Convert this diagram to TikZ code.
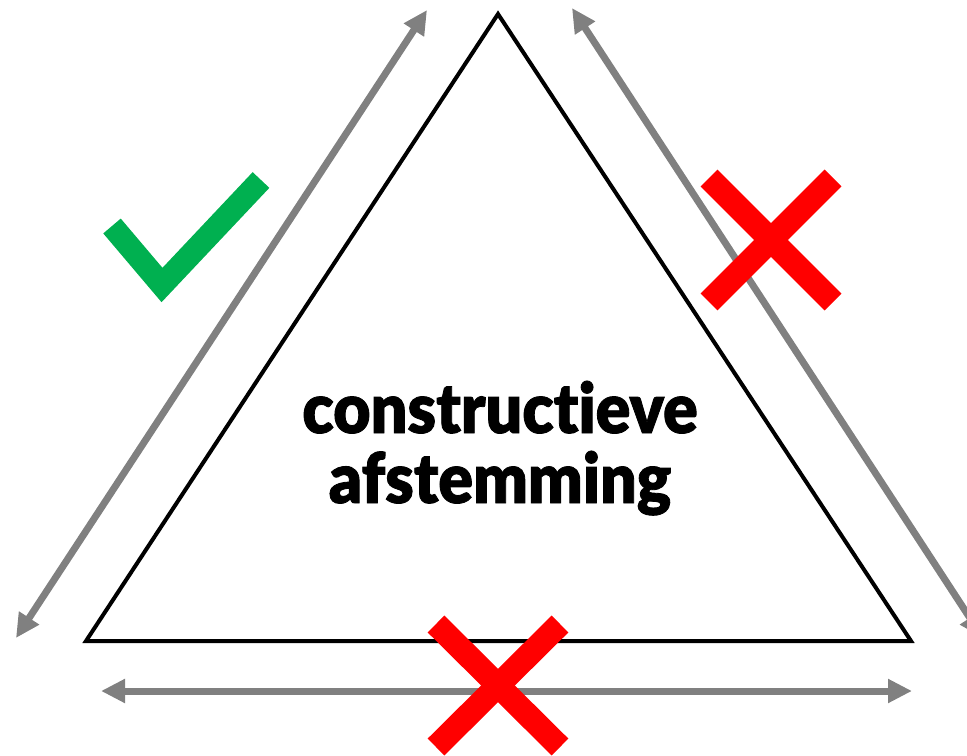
\documentclass[tikz,border=0pt]{standalone}
\usepackage{fontspec}
\usetikzlibrary{arrows.meta}
\newfontfamily\blk{Lato Black}[Ligatures={NoCommon,NoRare,NoDiscretionary},FakeStretch=0.93,FakeBold=1.2]
\definecolor{chkgreen}{HTML}{00B050}
\definecolor{arrgray}{HTML}{808080}
\begin{document}
\begin{tikzpicture}[x=0.75pt,y=-0.75pt,
  tri/.style={draw=black,line width=3pt,line join=miter},
  dbl/.style={draw=arrgray,line width=5.25pt,{Triangle[length=18pt,width=17pt]}-{Triangle[length=18pt,width=17pt]}},
  cross/.style={draw=red,line width=17.8pt,line cap=butt},
  tick/.style={draw=chkgreen,line width=17.2pt,line join=miter,line cap=butt},
  lbl/.style={font=\blk\fontsize{52}{52}\selectfont,inner sep=0pt,anchor=base}]
\useasboundingbox (0,0) rectangle (967,756);
% triangle
\coordinate (T) at (498,14);
\coordinate (BL) at (86,641);
\coordinate (BR) at (911,641);
\draw[tri] (T) -- (BL) -- (BR) -- cycle;
% arrows
\coordinate (L1) at (16,638);
\coordinate (L2) at (427,10);
\coordinate (R1) at (572,8);
\coordinate (R2) at (983,638);
\coordinate (B1) at (101,691);
\coordinate (B2) at (912,691);
\draw[dbl] (L1) -- (L2);
\draw[dbl] (R1) -- (R2);
\draw[dbl] (B1) -- (B2);
% text
\node[lbl] (t1) at (500,433) {constructieve};
\node[lbl] (t2) at (500,503) {afstemming};
% check
\coordinate (C1) at (112,226);
\coordinate (C2) at (162,285);
\coordinate (C3) at (261,180);
\draw[tick] (C1) -- (C2) -- (C3);
% right X
\coordinate (X1) at (709,178);
\coordinate (X2) at (833,302);
\coordinate (X3) at (833,178);
\coordinate (X4) at (709,302);
\draw[cross] (X1) -- (X2);
\draw[cross] (X3) -- (X4);
% bottom X
\coordinate (Y1) at (436,624);
\coordinate (Y2) at (560,747);
\coordinate (Y3) at (560,624);
\coordinate (Y4) at (436,747);
\draw[cross] (Y1) -- (Y2);
\draw[cross] (Y3) -- (Y4);
\end{tikzpicture}
\end{document}
